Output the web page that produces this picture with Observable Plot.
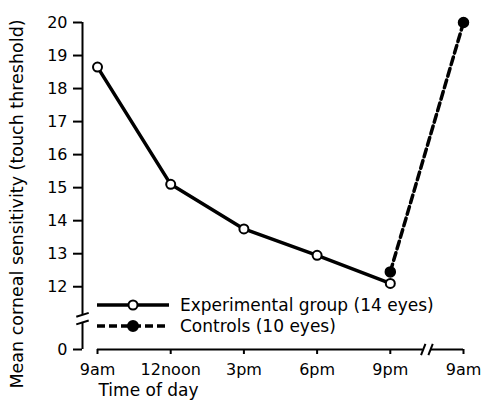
<!DOCTYPE html>
<html><head><meta charset="utf-8">
<script src="https://cdn.jsdelivr.net/npm/d3@7"></script>
<script src="https://cdn.jsdelivr.net/npm/@observablehq/plot@0.6"></script>
<style>
body{margin:0;background:#fff}
#chart{width:494px;height:403px}
</style>
</head><body><div id="chart"></div>
<script>
// ---- data ----
const timeLabels = ["9am", "12noon", "3pm", "6pm", "9pm", "9am"];
const expIdx = [0, 1, 2, 3, 4];
const expValues = [18.65, 15.1, 13.75, 12.95, 12.1];
const ctrlIdx = [4, 5];
const ctrlValues = [12.45, 20.0];
const yTicks = [12, 13, 14, 15, 16, 17, 18, 19, 20];
const zeroLabel = "0";
const legendLabels = ["Experimental group (14 eyes)", "Controls (10 eyes)"];
const yLabel = "Mean corneal sensitivity (touch threshold)";
const xLabel = "Time of day";

// ---- broken-axis scale constants ----
const Y_ZERO = 10.1;            // where "0" sits on the broken y axis
const Y_BREAK = [10.92, 11.15]; // gap in the y axis line
const X_MIN = -0.205;           // y axis position
const X_BREAK = [4.45, 4.55];   // gap in the x axis line

const expData = expIdx.map((x, i) => ({x, y: expValues[i]}));
const ctrlData = ctrlIdx.map((x, i) => ({x, y: ctrlValues[i]}));
const FONT = "DejaVu Sans";

const plot = Plot.plot({
  width: 494, height: 403,
  marginLeft: 82, marginRight: 31, marginTop: 22, marginBottom: 54,
  style: {fontFamily: FONT, background: "#fff", color: "#000"},
  x: {domain: [X_MIN, 5], axis: null},
  y: {domain: [Y_ZERO, 20], axis: null},
  marks: [
    // y axis line (broken)
    Plot.ruleX([X_MIN], {y1: 20, y2: Y_BREAK[1], strokeWidth: 2}),
    Plot.ruleX([X_MIN], {y1: Y_BREAK[0], y2: Y_ZERO, strokeWidth: 2}),
    Plot.link(Y_BREAK, {x1: X_MIN - 0.085, x2: X_MIN + 0.085, y1: d => d - 0.06, y2: d => d + 0.06, strokeWidth: 2}),
    Plot.axisY(yTicks, {anchor: "left", tickSize: 9, tickPadding: 6, fontSize: 16, strokeWidth: 2, label: null}),
    Plot.axisY([Y_ZERO], {anchor: "left", tickSize: 9, tickPadding: 6, fontSize: 16, strokeWidth: 2, tickFormat: () => zeroLabel, label: null}),
    // x axis line (broken)
    Plot.ruleY([Y_ZERO], {x1: 0, x2: X_BREAK[0], strokeWidth: 2}),
    Plot.ruleY([Y_ZERO], {x1: X_BREAK[1], x2: 5, strokeWidth: 2}),
    Plot.link(X_BREAK, {x1: d => d - 0.03, x2: d => d + 0.03, y1: Y_ZERO - 0.17, y2: Y_ZERO + 0.17, strokeWidth: 2}),
    Plot.axisX(timeLabels.map((_, i) => i), {anchor: "bottom", tickSize: 5, tickPadding: 9, fontSize: 16, strokeWidth: 2, tickFormat: i => timeLabels[i], label: null}),
    // x label
    Plot.text([xLabel], {frameAnchor: "bottom-left", textAnchor: "start", lineAnchor: "middle", dx: 16, dy: 41, fontSize: 17}),
    // series
    Plot.line(expData, {x: "x", y: "y", stroke: "#000", strokeWidth: 3.5}),
    Plot.line(ctrlData, {x: "x", y: "y", stroke: "#000", strokeWidth: 3.5, strokeDasharray: "8,4"}),
    Plot.dot(ctrlData, {x: "x", y: "y", r: 5, fill: "#000", stroke: "#000"}),
    Plot.dot(expData, {x: "x", y: "y", r: 4.5, fill: "#fff", stroke: "#000", strokeWidth: 2})
  ]
});

const svg = d3.select(plot);
// ---- y axis title ----
svg.append("text")
  .attr("transform", "translate(17,204) rotate(-90)")
  .attr("text-anchor", "middle").attr("dy", "0.35em")
  .attr("font-family", FONT).attr("font-size", 17.5).attr("fill", "#000")
  .text(yLabel);

// ---- legend (inside the plot area) ----
const leg = svg.append("g").attr("font-family", FONT).attr("font-size", 17).attr("text-anchor", "start");
const rows = [
  {label: legendLabels[0], dash: null, fill: "#fff", r: 4.5},
  {label: legendLabels[1], dash: "8,4", fill: "#000", r: 5}
];
rows.forEach((row, i) => {
  const y = 305 + i * 21;
  const g = leg.append("g").attr("transform", `translate(97,${y})`);
  g.append("line").attr("x1", 0).attr("x2", 72).attr("stroke", "#000").attr("stroke-width", 3.5)
    .attr("stroke-dasharray", row.dash);
  g.append("circle").attr("cx", 36).attr("r", row.r).attr("fill", row.fill).attr("stroke", "#000").attr("stroke-width", 2);
  g.append("text").attr("x", 83).attr("dy", "0.35em").attr("fill", "#000").text(row.label);
});

document.getElementById("chart").append(plot);
</script>
</body></html>
